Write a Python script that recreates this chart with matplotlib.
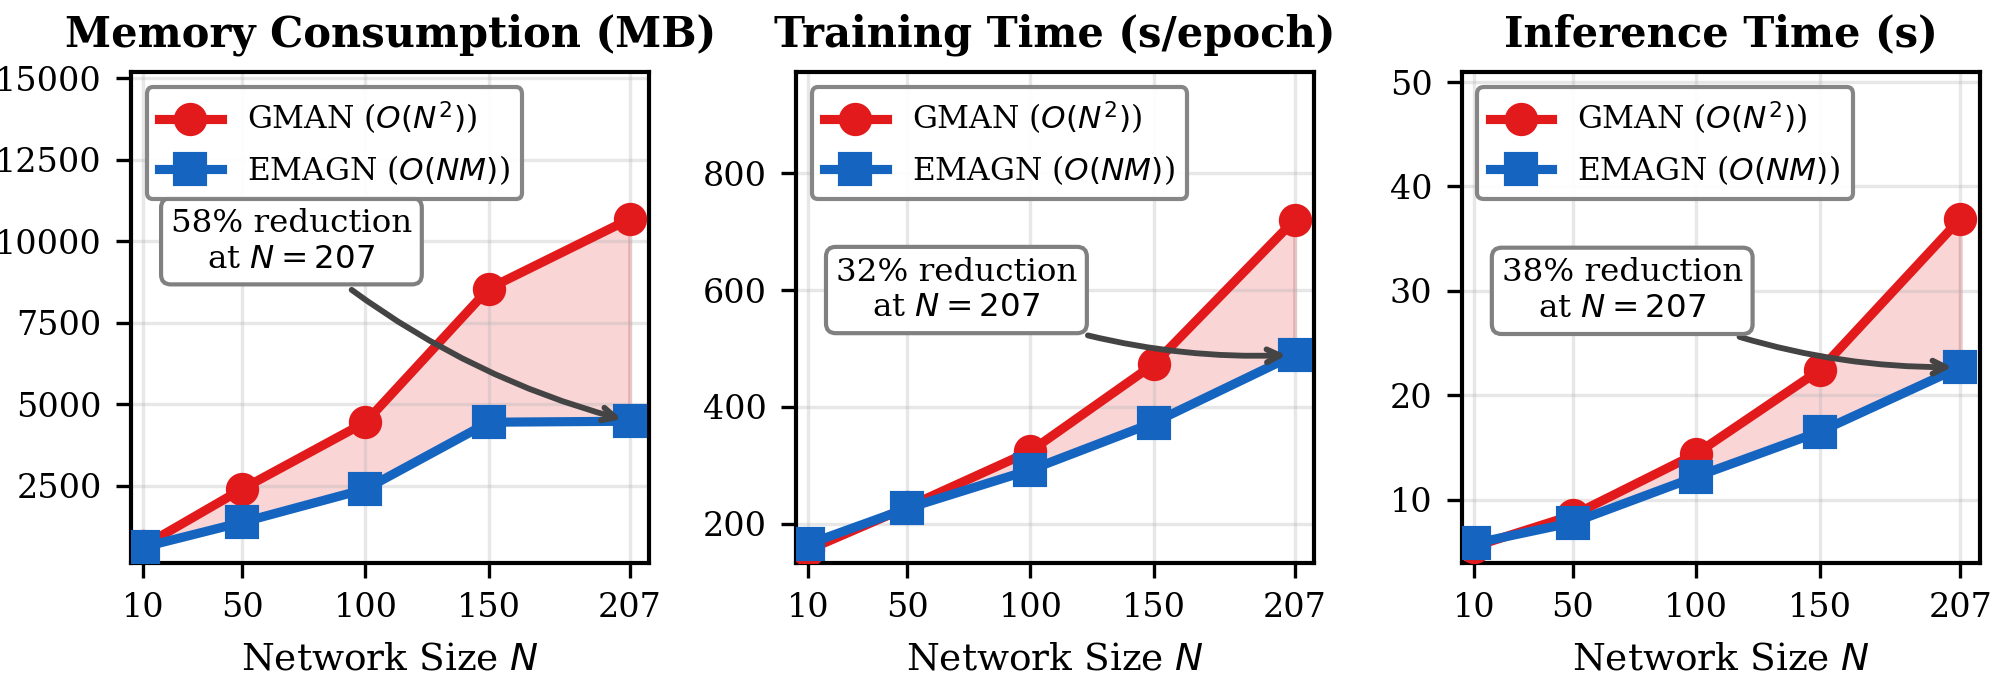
import matplotlib
matplotlib.use('Agg')
import matplotlib.pyplot as plt

plt.rcParams['font.family'] = 'DejaVu Serif'
plt.rcParams['axes.linewidth'] = 1.0

# network sizes on the x axis
network_sizes = [10, 50, 100, 150, 207]
size_ticks = ['10', '50', '100', '150', '207']

# values
memory_gman = [650, 2400, 4450, 8550, 10680]
memory_emagn = [620, 1380, 2400, 4450, 4480]
train_gman = [155, 228, 324, 473, 720]
train_emagn = [165, 226, 292, 373, 489]
infer_gman = [5.5, 8.5, 14.4, 22.4, 36.9]
infer_emagn = [5.8, 7.8, 12.2, 16.5, 22.7]

titles = ['Memory Consumption (MB)', 'Training Time (s/epoch)', 'Inference Time (s)']
reduction_labels = ['58% reduction\nat $N = 207$', '32% reduction\nat $N = 207$', '38% reduction\nat $N = 207$']

RED = '#E31A1C'
BLUE = '#1565C0'

panels = [(memory_gman, memory_emagn), (train_gman, train_emagn), (infer_gman, infer_emagn)]
ylims = [(125, 15200), (132, 974), (3.9, 51)]
text_y = [10000, 600, 30]
lefts = [0.0653, 0.3968, 0.7287]

fig = plt.figure(figsize=(2006 / 300, 693 / 300))

for i in range(3):
    gman, emagn = panels[i]
    ax = fig.add_axes([lefts[i], 0.1872, 0.2584, 0.7094])
    ax.fill_between(network_sizes, gman, emagn, color=RED, alpha=0.18, zorder=1)
    ax.plot(network_sizes, gman, '-o', color=RED, lw=2.2, ms=7, label='GMAN ($O(N^2)$)', zorder=3)
    ax.plot(network_sizes, emagn, '-s', color=BLUE, lw=2.2, ms=7, label='EMAGN ($O(NM)$)', zorder=4)

    ax.annotate(reduction_labels[i], xy=(network_sizes[-1], emagn[-1]), xytext=(70, text_y[i]),
                ha='center', va='center', fontsize=7.8,
                bbox=dict(boxstyle='round,pad=0.3', fc='white', ec='gray', lw=1),
                arrowprops=dict(arrowstyle='->', color='#444444', lw=1.4,
                                connectionstyle='arc3,rad=0.12'),
                zorder=5)

    ax.set_xlim(5, 215)
    ax.set_ylim(*ylims[i])
    ax.set_xticks(network_sizes)
    ax.set_xticklabels(size_ticks)
    ax.tick_params(labelsize=8)
    ax.grid(True, alpha=0.3)
    ax.set_title(titles[i], fontsize=10, fontweight='bold')
    ax.set_xlabel('Network Size $N$', fontsize=9)
    ax.legend(loc='upper left', fontsize=7.5, edgecolor='gray', framealpha=0.95)

fig.savefig('out.png', dpi=300)
